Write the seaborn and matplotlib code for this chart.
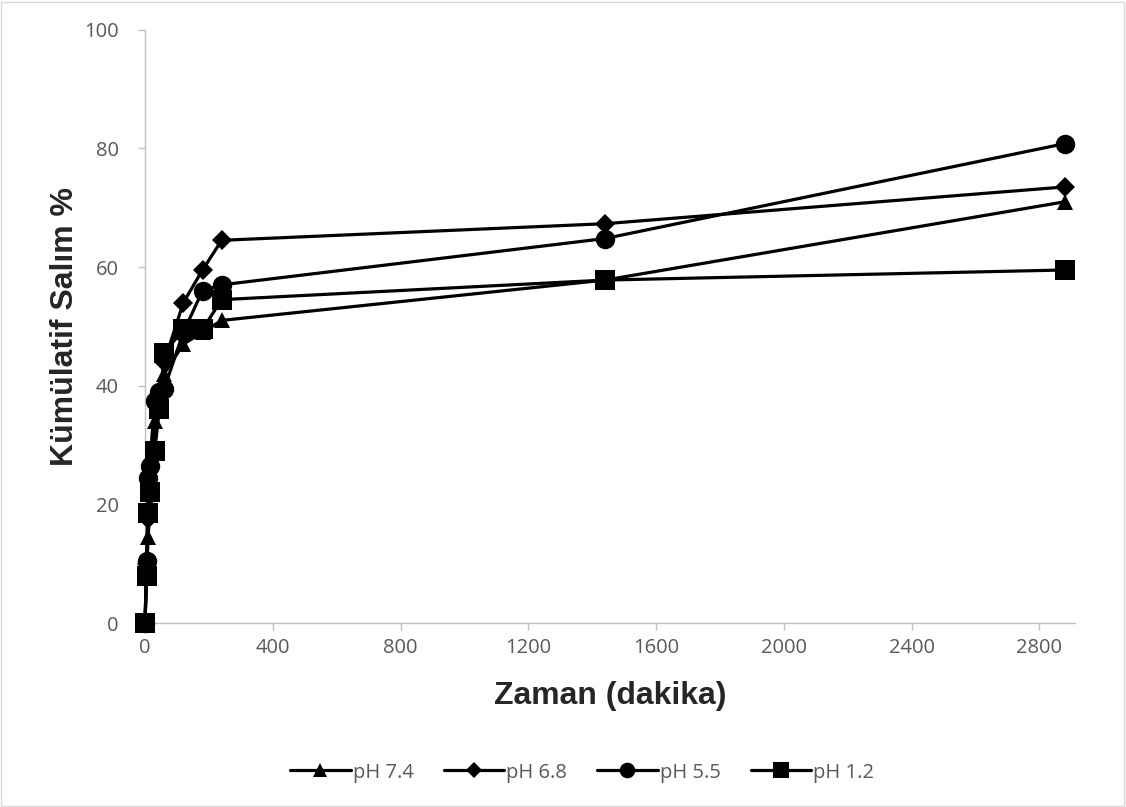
import pandas as pd
import matplotlib.pyplot as plt
import seaborn as sns
from matplotlib.patches import Rectangle

# Sampling times (minutes)
time_min = [0, 5, 10, 15, 30, 45, 60, 120, 180, 240, 1440, 2880]

# Cumulative release (%) per medium
ph_74 = [0, 9, 14.5, 20, 34, 38, 42, 47, 49, 51, 57.8, 71]
ph_68 = [0, 10, 17.5, 23, 29, 38, 44, 54, 59.5, 64.5, 67.3, 73.5]
ph_55 = [0, 10.5, 24.5, 26.5, 37.5, 39, 39.5, 49, 56, 57, 64.8, 80.8]
ph_12 = [0, 8, 18.5, 22, 29, 36, 45.5, 49.5, 49.5, 54.5, 57.8, 59.5]

series_names = ["pH 7.4", "pH 6.8", "pH 5.5", "pH 1.2"]
series_markers = ["^", "D", "o", "s"]
series_sizes = [12, 10, 14, 14]

x_ticks = [0, 400, 800, 1200, 1600, 2000, 2400, 2800]
y_ticks = [0, 20, 40, 60, 80, 100]

sns.set_style("white")
plt.rcParams["font.family"] = ["Open Sans", "DejaVu Sans"]

fig = plt.figure(figsize=(11.26, 8.07), dpi=100)
ax = fig.add_axes([0.1288, 0.228, 0.826, 0.7352])

all_values = [ph_74, ph_68, ph_55, ph_12]
for name, vals, mk, ms in zip(series_names, all_values, series_markers, series_sizes):
    df = pd.DataFrame({"time": time_min, "release": vals})
    sns.lineplot(data=df, x="time", y="release", ax=ax, color="black",
                 linewidth=2.3, marker=mk, markersize=ms, markeredgewidth=0,
                 label=name, clip_on=False, zorder=3)

ax.set_xlim(0, 2912)
ax.set_ylim(0, 100)
ax.set_xticks(x_ticks)
ax.set_yticks(y_ticks)
ax.tick_params(axis="both", labelsize=14.5, colors="#bfbfbf",
               length=5, width=1, direction="out", bottom=True, left=True)
ax.tick_params(axis="y", pad=14)
ax.tick_params(axis="x", pad=6)
for lab in ax.get_xticklabels() + ax.get_yticklabels():
    lab.set_color("#595959")

for side in ["top", "right"]:
    ax.spines[side].set_visible(False)
for side in ["left", "bottom"]:
    ax.spines[side].set_color("#bfbfbf")
    ax.spines[side].set_linewidth(1)

ax.set_xlabel("Zaman (dakika)", fontsize=23, fontweight="bold",
              family=["Liberation Sans", "DejaVu Sans"], labelpad=16)
ax.set_ylabel("Kümülatif Salım %", fontsize=23, fontweight="bold",
              family=["Liberation Sans", "DejaVu Sans"], labelpad=3)

leg = ax.legend(loc="center", bbox_to_anchor=(0.47, -0.252), ncol=4, frameon=False,
                fontsize=14.5, markerscale=0.8, handlelength=3, handletextpad=0.1,
                columnspacing=1.5)
for t in leg.get_texts():
    t.set_color("#595959")

fig.add_artist(Rectangle((0.001, 0.001), 0.997, 0.997, transform=fig.transFigure,
                         fill=False, edgecolor="#d9d9d9", linewidth=1))

plt.savefig("out.png", dpi=100)
plt.close()
